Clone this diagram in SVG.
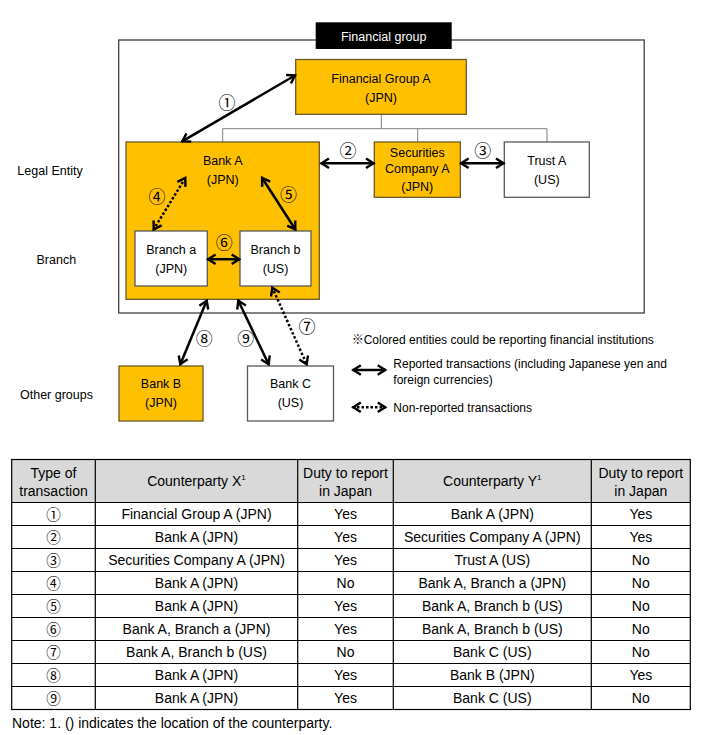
<svg xmlns="http://www.w3.org/2000/svg" width="705" height="735" viewBox="0 0 705 735">
<style>
text{font-family:"Liberation Sans",Arial,"Noto Sans CJK JP",sans-serif;fill:#000}
.n{font-size:12.5px;text-anchor:middle}
.side{font-size:12.5px;text-anchor:middle}
.lg{font-size:12px}
.num{font-family:"Noto Sans CJK JP","DejaVu Sans",sans-serif;font-size:17px;text-anchor:middle}
.tnum{font-family:"Noto Sans CJK JP","DejaVu Sans",sans-serif;font-size:14.5px;text-anchor:middle}
.t{font-size:14px;text-anchor:middle}
.org{fill:#FFC000;stroke:#6b5a24;stroke-width:1.3}
.wht{fill:#fff;stroke:#595959;stroke-width:1.3}
.tree{fill:none;stroke:#7f7f7f;stroke-width:1}
.ar{fill:none;stroke:#000;stroke-width:2.5;marker-start:url(#ah);marker-end:url(#ah)}
.dot{stroke-dasharray:2.5 2}
.grid{stroke:#000;stroke-width:1.2;fill:none}
</style>
<defs>
<marker id="ah" viewBox="-12 -8 16 16" refX="0.8" refY="0" markerWidth="16" markerHeight="16" markerUnits="userSpaceOnUse" orient="auto-start-reverse" overflow="visible">
<path d="M-7.5,-4.8 L0,0 L-7.5,4.8" fill="none" stroke="#000" stroke-width="2.4" stroke-linejoin="miter"/>
</marker>
</defs>
<rect width="705" height="735" fill="#fff"/>

<g id="financial-group">
<rect x="118.7" y="40" width="525.5" height="273" fill="none" stroke="#404040" stroke-width="1.3"/>
<rect x="315.7" y="22.3" width="136" height="26.7" fill="#000"/>
<text x="383.7" y="40.8" class="n" style="fill:#fff">Financial group</text>
</g>

<g id="side-labels">
<text x="50" y="175.3" class="side">Legal Entity</text>
<text x="56.3" y="264.3" class="side">Branch</text>
<text x="56.5" y="399.3" class="side">Other groups</text>
</g>

<g id="tree">
<path class="tree" d="M381.3,114.3 V128.7 M222.7,128.7 H547 M222.7,128.7 V142 M417.7,128.7 V142 M547,128.7 V142"/>
<path class="tree" d="M222.3,196.7 V214.3 M171.3,214.3 H275 M171.3,214.3 V231 M275,214.3 V231" style="stroke:#404040"/>
</g>

<g id="fga">
<rect class="org" x="295.7" y="59.5" width="170.6" height="54.8"/>
<text x="381" y="82.6" class="n">Financial Group A</text>
<text x="381" y="101.8" class="n">(JPN)</text>
</g>

<g id="bank-a">
<rect class="org" x="126" y="142" width="193.3" height="157.3"/>
<text x="222.7" y="165" class="n">Bank A</text>
<text x="222.7" y="184" class="n">(JPN)</text>
</g>

<g id="securities-a">
<rect class="org" x="374.3" y="142" width="86" height="55.3"/>
<text x="417.3" y="156.6" class="n">Securities</text>
<text x="417.3" y="172.6" class="n">Company A</text>
<text x="417.3" y="190.8" class="n">(JPN)</text>
</g>

<g id="trust-a">
<rect class="wht" x="504.3" y="142" width="85" height="55.3"/>
<text x="546.8" y="165" class="n">Trust A</text>
<text x="546.8" y="184.3" class="n">(US)</text>
</g>

<g id="branch-a">
<rect class="wht" x="135" y="231" width="72.3" height="55"/>
<text x="171.2" y="254.3" class="n">Branch a</text>
<text x="171.2" y="273.2" class="n">(JPN)</text>
</g>

<g id="branch-b">
<rect class="wht" x="240" y="231" width="71" height="55"/>
<text x="275.5" y="254.3" class="n">Branch b</text>
<text x="275.5" y="273.2" class="n">(US)</text>
</g>

<g id="bank-b">
<rect class="org" x="119" y="366" width="84" height="55"/>
<text x="161" y="388.3" class="n">Bank B</text>
<text x="161" y="407.2" class="n">(JPN)</text>
</g>

<g id="bank-c">
<rect class="wht" x="247.5" y="366" width="86" height="55"/>
<text x="290.5" y="388.3" class="n">Bank C</text>
<text x="290.5" y="407.2" class="n">(US)</text>
</g>

<g id="connectors">
<line class="ar" x1="181.7" y1="141.7" x2="295.7" y2="75"/>
<line class="ar" x1="320.7" y1="163.3" x2="374.3" y2="163.3"/>
<line class="ar" x1="460.3" y1="163.3" x2="504.3" y2="163.3"/>
<line class="ar dot" x1="153.3" y1="230" x2="185.7" y2="177.3"/>
<line class="ar" x1="295.7" y1="230" x2="261.7" y2="177.3"/>
<line class="ar" x1="207.3" y1="259.3" x2="240" y2="259.3"/>
<line class="ar dot" x1="272" y1="287" x2="307" y2="365"/>
<line class="ar" x1="207" y1="300" x2="180" y2="365"/>
<line class="ar" x1="238" y1="300" x2="269" y2="365"/>
<text x="227" y="109.3" class="num">①</text>
<text x="348" y="157.3" class="num">②</text>
<text x="482.7" y="157.3" class="num">③</text>
<text x="157" y="203.3" class="num">④</text>
<text x="288.5" y="201.3" class="num">⑤</text>
<text x="224.3" y="249" class="num">⑥</text>
<text x="307" y="333.3" class="num">⑦</text>
<text x="204.3" y="345.3" class="num">⑧</text>
<text x="245.7" y="345.3" class="num">⑨</text>
</g>

<g id="legend">
<text x="351.7" y="343.6" class="lg">※Colored entities could be reporting financial institutions</text>
<line class="ar" x1="352.5" y1="370" x2="386" y2="370"/>
<text x="393.3" y="367.6" class="lg">Reported transactions (including Japanese yen and</text>
<text x="393.3" y="384.4" class="lg">foreign currencies)</text>
<line class="ar dot" x1="352.5" y1="407.3" x2="386" y2="407.3"/>
<text x="393.3" y="411.6" class="lg">Non-reported  transactions</text>
</g>

<g id="table">
<rect x="11.7" y="459.5" width="678.6" height="43" fill="#D9D9D9"/>
<rect class="grid" x="11.7" y="459.5" width="678.6" height="250"/>
<path class="grid" d="M95.3,459.5 V709.5 M297.7,459.5 V709.5 M393.3,459.5 V709.5 M591.3,459.5 V709.5
M11.7,502.5 H690.3 M11.7,525.5 H690.3 M11.7,548.5 H690.3 M11.7,571.5 H690.3 M11.7,594.5 H690.3 M11.7,617.5 H690.3 M11.7,640.5 H690.3 M11.7,663.5 H690.3 M11.7,686.5 H690.3"/>
<text x="53.5" y="477.5" class="t">Type of</text>
<text x="53.5" y="495.5" class="t">transaction</text>
<text x="196.5" y="486" class="t">Counterparty X<tspan font-size="8" dy="-6">1</tspan></text>
<text x="345.5" y="477.5" class="t">Duty to report</text>
<text x="345.5" y="495.5" class="t">in Japan</text>
<text x="492.3" y="486" class="t">Counterparty Y<tspan font-size="8" dy="-6">1</tspan></text>
<text x="640.8" y="477.5" class="t">Duty to report</text>
<text x="640.8" y="495.5" class="t">in Japan</text>

<text x="53.5" y="519.5" class="tnum">①</text>
<text x="53.5" y="542.5" class="tnum">②</text>
<text x="53.5" y="565.5" class="tnum">③</text>
<text x="53.5" y="588.5" class="tnum">④</text>
<text x="53.5" y="611.5" class="tnum">⑤</text>
<text x="53.5" y="634.5" class="tnum">⑥</text>
<text x="53.5" y="657.5" class="tnum">⑦</text>
<text x="53.5" y="680.5" class="tnum">⑧</text>
<text x="53.5" y="703.5" class="tnum">⑨</text>

<text x="196.5" y="519" class="t">Financial Group A (JPN)</text>
<text x="196.5" y="542" class="t">Bank A (JPN)</text>
<text x="196.5" y="565" class="t">Securities Company A (JPN)</text>
<text x="196.5" y="588" class="t">Bank A (JPN)</text>
<text x="196.5" y="611" class="t">Bank A (JPN)</text>
<text x="196.5" y="634" class="t">Bank A, Branch a (JPN)</text>
<text x="196.5" y="657" class="t">Bank A, Branch b (US)</text>
<text x="196.5" y="680" class="t">Bank A (JPN)</text>
<text x="196.5" y="703" class="t">Bank A (JPN)</text>

<text x="345.5" y="519" class="t">Yes</text>
<text x="345.5" y="542" class="t">Yes</text>
<text x="345.5" y="565" class="t">Yes</text>
<text x="345.5" y="588" class="t">No</text>
<text x="345.5" y="611" class="t">Yes</text>
<text x="345.5" y="634" class="t">Yes</text>
<text x="345.5" y="657" class="t">No</text>
<text x="345.5" y="680" class="t">Yes</text>
<text x="345.5" y="703" class="t">Yes</text>

<text x="492.3" y="519" class="t">Bank A (JPN)</text>
<text x="492.3" y="542" class="t">Securities Company A (JPN)</text>
<text x="492.3" y="565" class="t">Trust A (US)</text>
<text x="492.3" y="588" class="t">Bank A, Branch a (JPN)</text>
<text x="492.3" y="611" class="t">Bank A, Branch b (US)</text>
<text x="492.3" y="634" class="t">Bank A, Branch b (US)</text>
<text x="492.3" y="657" class="t">Bank C (US)</text>
<text x="492.3" y="680" class="t">Bank B (JPN)</text>
<text x="492.3" y="703" class="t">Bank C (US)</text>

<text x="640.8" y="519" class="t">Yes</text>
<text x="640.8" y="542" class="t">Yes</text>
<text x="640.8" y="565" class="t">No</text>
<text x="640.8" y="588" class="t">No</text>
<text x="640.8" y="611" class="t">No</text>
<text x="640.8" y="634" class="t">No</text>
<text x="640.8" y="657" class="t">No</text>
<text x="640.8" y="680" class="t">Yes</text>
<text x="640.8" y="703" class="t">No</text>
</g>

<text x="12" y="728" style="font-size:14px">Note: 1. () indicates the location of the counterparty.</text>
</svg>
